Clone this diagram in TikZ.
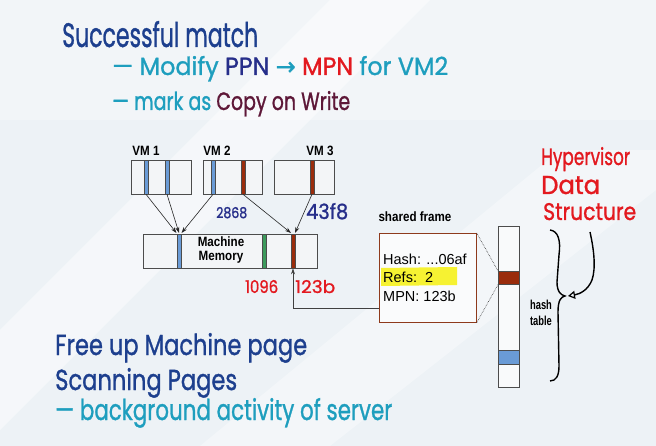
\documentclass[tikz,border=0pt]{standalone}
\usepackage{fontspec}
\setmainfont{Liberation Sans}
\newfontfamily\handfont{Poppins}[FakeBold=1.2]
\newfontfamily\symfont{DejaVu Sans}[FakeBold=1.2]
\usetikzlibrary{arrows.meta}
\definecolor{bgc}{HTML}{EDF2F6}
\definecolor{boxfill}{HTML}{F3F5F7}
\definecolor{sblue}{HTML}{6A9BD6}
\definecolor{sred}{HTML}{9A2C0C}
\definecolor{sgreen}{HTML}{3C9A5C}
\definecolor{cNavy}{HTML}{1D3F8E}
\definecolor{cDeep}{HTML}{262E8A}
\definecolor{cTeal}{HTML}{1E9EBE}
\definecolor{cRed}{HTML}{E3191F}
\definecolor{cMaroon}{HTML}{5E1838}
\definecolor{fbrown}{HTML}{8E3A1C}
\definecolor{hl}{HTML}{F6F232}
\newcommand\hw[3]{\resizebox{#1pt}{#2pt}{\handfont #3}}
\newcommand\narrow[1]{\scalebox{0.86}[1]{#1}}
\begin{document}
\begin{tikzpicture}[x=1pt,y=-1pt,
  box/.style={draw=black!70, fill=boxfill, line width=0.6pt, inner sep=0, anchor=north west},
  strip/.style={draw=black!70, line width=0.3pt, minimum width=3.5pt, inner sep=0, anchor=north},
  arr/.style={-{Stealth[length=6pt,width=4pt]}, line width=0.6pt, black!85},
  lbl/.style={font=\bfseries\fontsize{13.5}{15}\selectfont, inner sep=0},
  hand/.style={inner sep=0, anchor=base west},
  num/.style={inner sep=0, anchor=base west}]
\useasboundingbox (0,0) rectangle (656,446);
\fill[bgc] (0,0) rectangle (656,446);
\fill[white, opacity=0.45] (0,330) -- (330,0) -- (430,0) -- (0,430) -- cycle;
\fill[white, opacity=0.35] (200,446) -- (560,150) -- (656,150) -- (656,190) -- (330,446) -- cycle;
\fill[white, opacity=0.3] (0,0) rectangle (656,120);

% handwritten notes
\node[hand] (t1) at (62,47) {\hw{196}{26}{\color{cNavy}Successful match}};
\node[hand] (t2) at (112,75) {\hw{336}{19}{\color{cTeal}— Modify {\color{cDeep}PPN} {\symfont →} {\color{cRed}MPN} for VM2}};
\node[hand] (t3) at (112,110) {\hw{238}{19}{\color{cTeal}— mark as {\color{cMaroon}Copy on Write}}};
\node[hand] (b1) at (55,355) {\hw{252}{22}{\color{cNavy}Free up Machine page}};
\node[hand] (b2) at (55,390) {\hw{182}{22}{\color{cNavy}Scanning Pages}};
\node[hand] (b3) at (55,420) {\hw{337}{22}{\color{cTeal}— background activity of server}};
\node[hand] (h1) at (541,165) {\hw{89}{18}{\color{cRed}Hypervisor}};
\node[hand] (h2) at (541,194) {\hw{59}{18}{\color{cRed}Data}};
\node[hand] (h3) at (543,220) {\hw{93}{17}{\color{cRed}Structure}};

% VM boxes
\node[lbl] (l1) at (146,151) {\narrow{VM 1}};
\node[lbl] (l2) at (217,151) {\narrow{VM 2}};
\node[lbl] (l3) at (320,151) {\narrow{VM 3}};
\node[box, minimum width=60, minimum height=34] (vm1) at (131,160) {};
\node[box, minimum width=59, minimum height=34] (vm2) at (203,160) {};
\node[box, minimum width=60, minimum height=34] (vm3) at (274,160) {};
\node[strip, fill=sblue, minimum height=34] (v1a) at (146,160) {};
\node[strip, fill=sblue, minimum height=34] (v1b) at (167,160) {};
\node[strip, fill=sblue, minimum height=34] (v2a) at (213,160) {};
\node[strip, fill=sred, minimum height=34] (v2b) at (243,160) {};
\node[strip, fill=sred, minimum height=34] (v3a) at (312,160) {};

% machine memory
\node[box, minimum width=174, minimum height=34] (mm) at (143,234) {};
\node[strip, fill=sblue, minimum height=34] (mmb) at (179,234) {};
\node[strip, fill=sgreen, minimum height=34] (mmg) at (264,234) {};
\node[strip, fill=sred, minimum height=34] (mmr) at (293,234) {};
\node[lbl, align=center, font=\bfseries\fontsize{13.5}{14}\selectfont] (mmt) at (221,250) {\narrow{Machine}\\\narrow{Memory}};

\draw[arr] (v1a.south) -- ([xshift=-2.5pt,yshift=1pt]mmb.north);
\draw[arr] (v1b.south) -- ([xshift=0pt,yshift=1pt]mmb.north);
\draw[arr] (v2a.south) -- ([xshift=2.5pt,yshift=1pt]mmb.north);
\draw[arr] (v2b.south) -- ([xshift=-2pt,yshift=1pt]mmr.north);
\draw[arr] (v3a.south) -- ([xshift=2pt,yshift=1pt]mmr.north);

\node[num] (n1) at (216,218) {\hw{31}{11}{\color{cDeep}2868}};
\node[num] (n2) at (306,219) {\hw{42}{16}{\color{cDeep}43f8}};
\node[num] (n3) at (245,293) {\hw{33}{13}{\color{cRed}1096}};
\node[num] (n4) at (295,293) {\hw{40}{13}{\color{cRed}123b}};

% shared frame
\node[lbl] (sft) at (415,217) {\narrow{shared frame}};
\node[draw=fbrown, fill=white!60!boxfill, line width=0.7pt, inner sep=0, anchor=north west, minimum width=97, minimum height=89] (sf) at (379,233) {};
\fill[hl] (381,268) -- (457,267) -- (457,285) -- (381,286) -- cycle;
\node[inner sep=0, anchor=base west, font=\fontsize{14.5}{16}\selectfont] (s1) at (383,265) {Hash: ...06af};
\node[inner sep=0, anchor=base west, font=\fontsize{14.5}{16}\selectfont] (s2) at (383,283) {Refs:\ \ 2};
\node[inner sep=0, anchor=base west, font=\fontsize{14.5}{16}\selectfont] (s3) at (383,302) {MPN:\ 123b};

% hash table
\node[box, fill=white!50!boxfill, minimum width=21, minimum height=161] (ht) at (498,226) {};
\node[box, fill=sred, minimum width=21, minimum height=13] (hr) at (498,271) {};
\node[box, fill=sblue, minimum width=21, minimum height=14] (hb) at (498,350) {};
\draw[densely dotted, line width=0.6pt, black!80] (sf.north east) -- (hr.north west);
\draw[densely dotted, line width=0.6pt, black!80] (sf.south east) -- (hr.south west);
\node[lbl, align=center, font=\bfseries\fontsize{13}{16}\selectfont] (htl) at (541,313) {\scalebox{0.72}[1]{hash}\\\scalebox{0.72}[1]{table}};

\draw[arr, line width=0.7pt, black!75] ([yshift=-30.5pt]sf.west) -| (mmr.south);

% brace and arrow
\coordinate (bt) at (550,230);
\coordinate (bm) at (565,296);
\coordinate (bb) at (550,381);
\draw[line width=1.4pt, black] (bt) .. controls (558,231) and (561,240) .. (559,255) -- (557,282) .. controls (557,292) and (561,295) .. (bm) .. controls (561,297) and (558,300) .. (558,312) -- (559,366) .. controls (559,376) and (556,381) .. (bb);
\coordinate (sa) at (590,232);
\draw[line width=1.4pt, black, -{Triangle[open, length=7pt, width=8pt, line width=1.2pt]}] (sa) .. controls (594,250) and (596,268) .. (592,280) .. controls (588,290) and (580,294) .. ([xshift=3pt]bm);
\end{tikzpicture}
\end{document}
